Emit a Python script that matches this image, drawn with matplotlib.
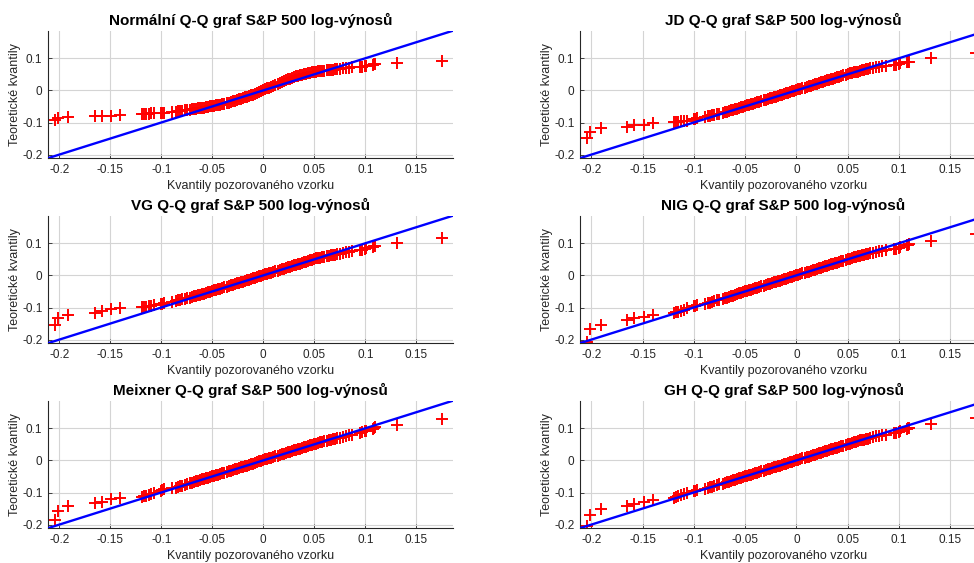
import matplotlib
matplotlib.use("Agg")
import matplotlib.pyplot as plt

# kvantily pozorovaneho vzorku (spolecne pro vsechny grafy)
sample_q = [-0.204, -0.2015, -0.191, -0.165, -0.158, -0.149, -0.140, -0.119, -0.117, -0.115,
            -0.112, -0.110, -0.107, -0.100, -0.099, -0.097, -0.089, -0.086, -0.084, -0.082,
            -0.080, -0.077, -0.075, -0.072, -0.070, -0.068, -0.066, -0.064, -0.062, -0.060,
            -0.058, -0.056, -0.054, -0.052, -0.050, -0.048, -0.046, -0.044, -0.042, -0.040,
            -0.038, -0.036, -0.034, -0.032, -0.030, -0.028, -0.026, -0.024, -0.022, -0.020,
            -0.018, -0.016, -0.014, -0.012, -0.010, -0.008, -0.006, -0.004, -0.002, 0.000,
            0.002, 0.004, 0.006, 0.008, 0.010, 0.012, 0.014, 0.016, 0.018, 0.020,
            0.022, 0.024, 0.026, 0.028, 0.030, 0.032, 0.034, 0.036, 0.038, 0.040,
            0.042, 0.044, 0.046, 0.048, 0.050, 0.052, 0.054, 0.056, 0.058,
            0.060, 0.062, 0.064, 0.066, 0.068, 0.070, 0.072, 0.075, 0.078, 0.081,
            0.084, 0.087, 0.095, 0.097, 0.100, 0.101, 0.108, 0.109, 0.110, 0.131, 0.175]

# teoreticke kvantily jednotlivych modelu
normal_q = [-0.093, -0.086, -0.082, -0.080, -0.080, -0.079, -0.078, -0.074, -0.073, -0.073,
            -0.072, -0.071, -0.071, -0.070, -0.069, -0.069, -0.067, -0.066, -0.065, -0.064,
            -0.063, -0.062, -0.061, -0.060, -0.059, -0.058, -0.057, -0.056, -0.055, -0.054,
            -0.054, -0.053, -0.051, -0.050, -0.049, -0.048, -0.047, -0.045, -0.044, -0.043,
            -0.041, -0.039, -0.038, -0.036, -0.034, -0.032, -0.030, -0.028, -0.026, -0.024,
            -0.022, -0.020, -0.018, -0.015, -0.013, -0.010, -0.007, -0.004, -0.002, 0.001,
            0.004, 0.007, 0.009, 0.012, 0.014, 0.017, 0.020, 0.024, 0.027, 0.030,
            0.032, 0.035, 0.037, 0.040, 0.042, 0.044, 0.046, 0.047, 0.049, 0.051,
            0.052, 0.053, 0.055, 0.056, 0.057, 0.058, 0.059, 0.059, 0.060,
            0.061, 0.062, 0.063, 0.064, 0.065, 0.066, 0.067, 0.068, 0.069, 0.070,
            0.071, 0.072, 0.073, 0.074, 0.075, 0.077, 0.080, 0.082, 0.083, 0.085, 0.093]

jd_q = [-0.149, -0.128, -0.118, -0.114, -0.109, -0.107, -0.103, -0.098, -0.097, -0.097,
        -0.096, -0.095, -0.094, -0.090, -0.089, -0.087, -0.083, -0.081, -0.079, -0.077,
        -0.076, -0.073, -0.072, -0.069, -0.068, -0.066, -0.064, -0.062, -0.060, -0.058,
        -0.057, -0.055, -0.053, -0.051, -0.049, -0.047, -0.045, -0.043, -0.041, -0.039,
        -0.037, -0.035, -0.033, -0.031, -0.029, -0.027, -0.025, -0.023, -0.021, -0.019,
        -0.017, -0.015, -0.013, -0.011, -0.009, -0.007, -0.005, -0.003, -0.001, 0.001,
        0.003, 0.005, 0.007, 0.009, 0.011, 0.013, 0.015, 0.017, 0.019, 0.021,
        0.023, 0.025, 0.027, 0.029, 0.031, 0.033, 0.035, 0.037, 0.039, 0.041,
        0.043, 0.045, 0.047, 0.049, 0.051, 0.053, 0.055, 0.056, 0.057,
        0.058, 0.060, 0.062, 0.064, 0.066, 0.067, 0.069, 0.071, 0.073, 0.074,
        0.076, 0.077, 0.079, 0.080, 0.082, 0.084, 0.087, 0.089, 0.090, 0.100, 0.116]

vg_q = [-0.155, -0.132, -0.124, -0.116, -0.111, -0.105, -0.103, -0.099, -0.098, -0.097,
        -0.095, -0.094, -0.092, -0.089, -0.088, -0.087, -0.082, -0.080, -0.078, -0.077,
        -0.075, -0.073, -0.071, -0.069, -0.067, -0.065, -0.063, -0.062, -0.060, -0.058,
        -0.057, -0.055, -0.053, -0.051, -0.049, -0.047, -0.045, -0.043, -0.041, -0.039,
        -0.037, -0.035, -0.033, -0.031, -0.029, -0.027, -0.025, -0.023, -0.021, -0.019,
        -0.017, -0.015, -0.013, -0.011, -0.009, -0.007, -0.005, -0.003, -0.001, 0.001,
        0.003, 0.005, 0.007, 0.009, 0.011, 0.013, 0.015, 0.017, 0.019, 0.021,
        0.023, 0.025, 0.027, 0.029, 0.031, 0.033, 0.035, 0.037, 0.039, 0.041,
        0.043, 0.045, 0.047, 0.049, 0.051, 0.053, 0.054, 0.055, 0.056,
        0.058, 0.059, 0.061, 0.062, 0.063, 0.064, 0.066, 0.068, 0.070, 0.072,
        0.074, 0.076, 0.079, 0.080, 0.083, 0.084, 0.089, 0.091, 0.092, 0.100, 0.115]

nig_q = [-0.207, -0.167, -0.153, -0.140, -0.134, -0.128, -0.122, -0.117, -0.115, -0.113,
         -0.110, -0.107, -0.103, -0.096, -0.095, -0.093, -0.090, -0.087, -0.085, -0.083,
         -0.081, -0.078, -0.076, -0.073, -0.071, -0.069, -0.067, -0.065, -0.063, -0.061,
         -0.058, -0.056, -0.054, -0.052, -0.050, -0.048, -0.046, -0.044, -0.042, -0.040,
         -0.038, -0.036, -0.034, -0.032, -0.030, -0.028, -0.026, -0.024, -0.022, -0.020,
         -0.018, -0.016, -0.014, -0.012, -0.010, -0.008, -0.006, -0.004, -0.002, 0.000,
         0.002, 0.004, 0.006, 0.008, 0.010, 0.012, 0.014, 0.016, 0.018, 0.020,
         0.022, 0.024, 0.026, 0.028, 0.030, 0.032, 0.034, 0.036, 0.038, 0.040,
         0.042, 0.044, 0.046, 0.048, 0.050, 0.052, 0.054, 0.056, 0.058,
         0.059, 0.061, 0.063, 0.064, 0.066, 0.067, 0.069, 0.071, 0.073, 0.075,
         0.076, 0.078, 0.081, 0.083, 0.086, 0.088, 0.094, 0.096, 0.098, 0.107, 0.130]

meixner_q = [-0.186, -0.158, -0.142, -0.134, -0.128, -0.121, -0.118, -0.115, -0.112, -0.110,
             -0.107, -0.104, -0.101, -0.094, -0.092, -0.090, -0.087, -0.085, -0.083, -0.081,
             -0.079, -0.076, -0.074, -0.071, -0.069, -0.067, -0.065, -0.063, -0.061, -0.059,
             -0.058, -0.056, -0.054, -0.052, -0.050, -0.048, -0.046, -0.044, -0.042, -0.040,
             -0.038, -0.036, -0.034, -0.032, -0.030, -0.028, -0.026, -0.024, -0.022, -0.020,
             -0.018, -0.016, -0.014, -0.012, -0.010, -0.007, -0.005, -0.003, -0.001, 0.001,
             0.003, 0.005, 0.007, 0.009, 0.011, 0.013, 0.015, 0.017, 0.019, 0.021,
             0.023, 0.025, 0.027, 0.029, 0.031, 0.033, 0.035, 0.037, 0.039, 0.041,
             0.043, 0.045, 0.047, 0.049, 0.050, 0.052, 0.054, 0.056, 0.058,
             0.059, 0.061, 0.062, 0.064, 0.066, 0.067, 0.069, 0.071, 0.074, 0.076,
             0.078, 0.080, 0.085, 0.087, 0.091, 0.093, 0.099, 0.101, 0.103, 0.110, 0.128]

gh_q = [-0.205, -0.171, -0.151, -0.142, -0.135, -0.128, -0.123, -0.116, -0.114, -0.112,
        -0.109, -0.106, -0.103, -0.096, -0.094, -0.092, -0.088, -0.086, -0.084, -0.082,
        -0.080, -0.077, -0.075, -0.072, -0.070, -0.068, -0.066, -0.064, -0.062, -0.060,
        -0.058, -0.056, -0.054, -0.052, -0.050, -0.048, -0.046, -0.044, -0.042, -0.040,
        -0.038, -0.036, -0.034, -0.032, -0.030, -0.028, -0.026, -0.024, -0.022, -0.020,
        -0.018, -0.016, -0.014, -0.012, -0.010, -0.008, -0.006, -0.004, -0.002, 0.000,
        0.002, 0.004, 0.006, 0.008, 0.010, 0.012, 0.014, 0.016, 0.018, 0.020,
        0.022, 0.024, 0.026, 0.028, 0.030, 0.032, 0.034, 0.036, 0.038, 0.040,
        0.042, 0.044, 0.046, 0.048, 0.050, 0.052, 0.054, 0.056, 0.058,
        0.060, 0.062, 0.063, 0.065, 0.067, 0.068, 0.070, 0.072, 0.075, 0.077,
        0.079, 0.080, 0.084, 0.086, 0.090, 0.092, 0.098, 0.100, 0.101, 0.113, 0.132]

titles = ["Normální Q-Q graf S&P 500 log-výnosů", "JD Q-Q graf S&P 500 log-výnosů",
          "VG Q-Q graf S&P 500 log-výnosů", "NIG Q-Q graf S&P 500 log-výnosů",
          "Meixner Q-Q graf S&P 500 log-výnosů", "GH Q-Q graf S&P 500 log-výnosů"]
theo = [normal_q, jd_q, vg_q, nig_q, meixner_q, gh_q]

x_ticks = [-0.2, -0.15, -0.1, -0.05, 0, 0.05, 0.1, 0.15]
x_ticklabels = ["-0.2", "-0.15", "-0.1", "-0.05", "0", "0.05", "0.1", "0.15"]
y_ticks = [-0.2, -0.1, 0, 0.1]
y_ticklabels = ["-0.2", "-0.1", "0", "0.1"]

plt.rcParams['font.family'] = ['Liberation Sans', 'DejaVu Sans']

W, H = 974, 563
fig = plt.figure(figsize=(W / 100, H / 100), dpi=100)
fig.patch.set_facecolor("white")

# pozice os v pixelech (left, right) a (top, bottom)
col_x = [(48, 453), (580, 987)]
row_y = [(31, 158), (216, 343), (401, 528)]

txt = "#262626"
for i in range(6):
    r, c = divmod(i, 2)
    x0, x1 = col_x[c]
    y0, y1 = row_y[r]
    ax = fig.add_axes([x0 / W, 1 - y1 / H, (x1 - x0) / W, (y1 - y0) / H])
    ax.set_xlim(-0.211, 0.186)
    ax.set_ylim(-0.2105, 0.185)
    ax.grid(True, color="#d4d4d4", linewidth=0.8)
    ax.set_axisbelow(True)
    ax.plot(sample_q, theo[i], linestyle="none", marker="+", color="red",
            markersize=8.5, markeredgewidth=1.4, zorder=2)
    ax.axline((0, 0), slope=1, color="#0000ff", linewidth=1.7, zorder=3)
    ax.set_xticks(x_ticks)
    ax.set_xticklabels(x_ticklabels)
    ax.set_yticks(y_ticks)
    ax.set_yticklabels(y_ticklabels)
    ax.tick_params(direction="in", length=3, width=0.6, colors=txt, labelsize=8.5, pad=4)
    for s in ["top", "right"]:
        ax.spines[s].set_visible(False)
    for s in ["left", "bottom"]:
        ax.spines[s].set_color(txt)
        ax.spines[s].set_linewidth(0.8)
    ax.set_title(titles[i], fontsize=11, fontweight="bold", color="black", pad=4)
    ax.set_xlabel("Kvantily pozorovaného vzorku", fontsize=9, color=txt, labelpad=3)
    ax.set_ylabel("Teoretické kvantily", fontsize=9, color=txt, labelpad=1)

plt.savefig("out.png", dpi=100)
